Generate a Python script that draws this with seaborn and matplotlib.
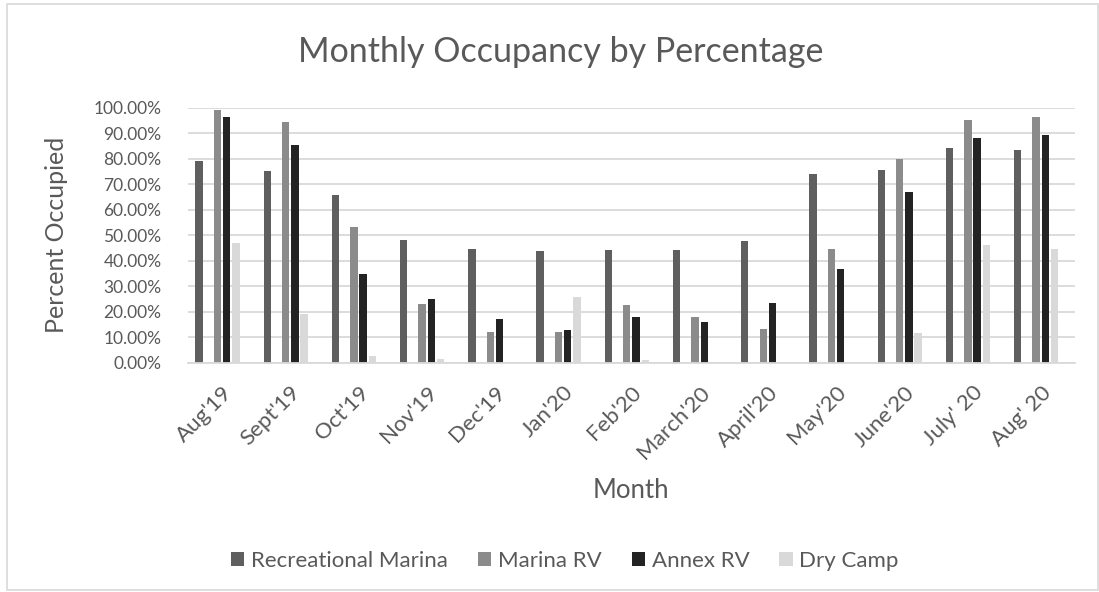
import numpy as np
import pandas as pd
import matplotlib
matplotlib.use("Agg")
import matplotlib.pyplot as plt
from matplotlib.patches import Rectangle, Patch
from matplotlib.ticker import PercentFormatter
import seaborn as sns

# data (fraction occupied)
months = ["Aug'19", "Sept'19", "Oct'19", "Nov'19", "Dec'19", "Jan'20", "Feb'20",
          "March'20", "April'20", "May'20", "June'20", "July' 20", "Aug' 20"]
recreational_marina = [0.791, 0.751, 0.658, 0.481, 0.445, 0.439, 0.443, 0.443, 0.478, 0.739, 0.757, 0.841, 0.834]
marina_rv = [0.991, 0.944, 0.534, 0.231, 0.120, 0.121, 0.226, 0.180, 0.132, 0.445, 0.798, 0.951, 0.965]
annex_rv = [0.965, 0.854, 0.349, 0.252, 0.171, 0.128, 0.181, 0.159, 0.234, 0.369, 0.671, 0.883, 0.893]
dry_camp = [0.471, 0.192, 0.027, 0.014, 0.005, 0.259, 0.013, 0.003, 0.0, 0.004, 0.117, 0.463, 0.448]

series = {
    "Recreational Marina": recreational_marina,
    "Marina RV": marina_rv,
    "Annex RV": annex_rv,
    "Dry Camp": dry_camp,
}
rows = []
for name, vals in series.items():
    for m, v in zip(months, vals):
        rows.append({"Month": m, "Series": name, "Value": v})
df = pd.DataFrame(rows)

# the source chart leaves two empty series slots in each group
hue_order = ["Recreational Marina", "_empty1", "Marina RV", "Annex RV", "Dry Camp", "_empty2"]
palette = {"Recreational Marina": "#5f5f5f", "_empty1": "#ffffff", "Marina RV": "#8b8b8b",
           "Annex RV": "#232323", "Dry Camp": "#d9d9d9", "_empty2": "#ffffff"}

text_col = "#595959"
sns.set_style("white")
plt.rcParams["font.family"] = ["Lato", "DejaVu Sans"]

fig = plt.figure(figsize=(10.99, 5.92), dpi=100)
ax = fig.add_axes([0.171, 0.387, 0.807, 0.431])

sns.barplot(data=df, x="Month", y="Value", hue="Series", hue_order=hue_order,
            order=months, palette=palette, width=0.81, gap=0.2, linewidth=0,
            saturation=1, ax=ax, legend=False)

ax.set_ylim(0, 1.0)
ax.set_yticks(np.arange(0, 1.01, 0.1))
ax.yaxis.set_major_formatter(PercentFormatter(1.0, decimals=2))
ax.grid(axis="y", color="#d9d9d9", linewidth=1.3)
ax.set_axisbelow(True)
for s in ["top", "right", "left"]:
    ax.spines[s].set_visible(False)
ax.spines["bottom"].set_color("#d9d9d9")
ax.spines["bottom"].set_linewidth(1.3)
ax.tick_params(axis="both", length=0, colors=text_col)
ax.tick_params(axis="y", pad=19, labelsize=12.5)
ax.tick_params(axis="x", pad=14, labelsize=16)
plt.setp(ax.get_xticklabels(), rotation=45, ha="right", rotation_mode="anchor")

fig.text(0.51, 0.912, "Monthly Occupancy by Percentage", fontsize=24.5,
         color=text_col, ha="center", va="center")
ax.set_ylabel("Percent Occupied", fontsize=18, color=text_col, va="center")
ax.yaxis.set_label_coords(-0.148, 0.5)
ax.set_xlabel("Month", fontsize=18.5, color=text_col, va="center")
ax.xaxis.set_label_coords(0.5, -0.50)

handles = [Patch(facecolor=palette[n], edgecolor="none") for n in series]
fig.legend(handles, list(series.keys()), loc="center", bbox_to_anchor=(0.514, 0.052),
           ncol=4, frameon=False, fontsize=16, labelcolor=text_col,
           handlelength=0.6, handleheight=0.6, handletextpad=0.3, columnspacing=1.35)

fig.patches.append(Rectangle((0.006, 0.003), 0.993, 0.99, transform=fig.transFigure,
                             fill=False, edgecolor="#d9d9d9", linewidth=1.2))

fig.savefig("out.png", dpi=100)
